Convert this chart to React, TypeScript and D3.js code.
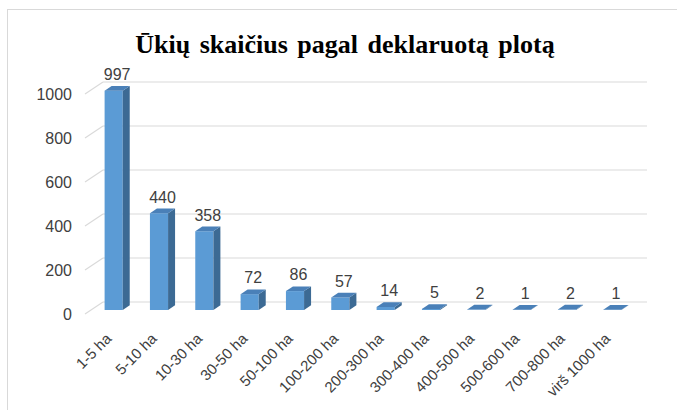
import { useEffect, useRef } from "react"
import * as d3 from "d3"

const categories = [
  "1-5 ha",
  "5-10 ha",
  "10-30 ha",
  "30-50 ha",
  "50-100 ha",
  "100-200 ha",
  "200-300 ha",
  "300-400 ha",
  "400-500 ha",
  "500-600 ha",
  "700-800 ha",
  "virš 1000 ha",
]
const farms = [997, 440, 358, 72, 86, 57, 14, 5, 2, 1, 2, 1]
const yTicks = [0, 200, 400, 600, 800, 1000]

const W = 677
const H = 410

export default function App() {
  const svgRef = useRef<SVGSVGElement>(null)

  useEffect(() => {
    if (!svgRef.current) return
    const svg = d3.select(svgRef.current)
    svg.selectAll("*").remove()

    // 3D depth of the plot box
    const DX = 18
    const DY = -12

    const x = d3.scaleBand().domain(categories).range([85, 629])
    const y = d3.scaleLinear().domain([0, 1000]).range([314, 94])

    // chart border
    svg
      .append("rect")
      .attr("x", 7.5)
      .attr("y", 9.5)
      .attr("width", 700)
      .attr("height", 420)
      .attr("fill", "#fff")
      .attr("stroke", "#d9d9d9")

    // title
    svg
      .append("text")
      .attr("x", 345)
      .attr("y", 53)
      .attr("text-anchor", "middle")
      .attr("font-family", "'Liberation Serif', serif")
      .attr("font-weight", "bold")
      .attr("font-size", 26)
      .attr("word-spacing", 3)
      .attr("fill", "#000")
      .text("Ūkių skaičius pagal deklaruotą plotą")

    // gridlines on back wall + slanted side lines
    const grid = svg.append("g").attr("stroke", "#d9d9d9").attr("stroke-width", 1.2)
    yTicks.forEach((t) => {
      const yy = y(t)
      grid
        .append("line")
        .attr("x1", 85 + DX)
        .attr("x2", 629 + DX)
        .attr("y1", yy + DY)
        .attr("y2", yy + DY)
      grid
        .append("line")
        .attr("x1", 85)
        .attr("x2", 85 + DX)
        .attr("y1", yy)
        .attr("y2", yy + DY)
    })

    // y tick labels
    svg
      .append("g")
      .selectAll("text")
      .data(yTicks)
      .enter()
      .append("text")
      .attr("x", 72)
      .attr("y", (d) => y(d))
      .attr("dy", "0.35em")
      .attr("text-anchor", "end")
      .attr("font-family", "'Liberation Sans', sans-serif")
      .attr("font-size", 16)
      .attr("fill", "#404040")
      .text((d) => d)

    // bars
    const bw = x.bandwidth() * 0.4
    const fdx = 6
    const fdy = -4
    const bdx = 7
    const bdy = -4.7
    const bars = svg.append("g")
    farms.forEach((v, i) => {
      const cx = (x(categories[i]) || 0) + x.bandwidth() / 2
      const x0 = cx - bw / 2 + fdx
      const x1 = x0 + bw
      const yt = y(v) + fdy
      const yb = y(0) + fdy
      bars
        .append("rect")
        .attr("x", x0)
        .attr("y", yt)
        .attr("width", bw)
        .attr("height", yb - yt)
        .attr("fill", "#5b9bd5")
      bars
        .append("polygon")
        .attr("points", `${x1},${yt} ${x1 + bdx},${yt + bdy} ${x1 + bdx},${yb + bdy} ${x1},${yb}`)
        .attr("fill", "#3c6a94")
      bars
        .append("polygon")
        .attr("points", `${x0},${yt} ${x1},${yt} ${x1 + bdx},${yt + bdy} ${x0 + bdx},${yt + bdy}`)
        .attr("fill", "#4a80b8")

      // value label
      bars
        .append("text")
        .attr("x", cx + fdx + bdx / 2)
        .attr("y", yt + bdy - 6)
        .attr("text-anchor", "middle")
        .attr("font-family", "'Liberation Sans', sans-serif")
        .attr("font-size", 16)
        .attr("fill", "#404040")
        .text(v)

      // category label
      const lx = cx + 1
      const ly = 336
      bars
        .append("text")
        .attr("transform", `translate(${lx},${ly}) rotate(-45)`)
        .attr("text-anchor", "end")
        .attr("dy", "0.35em")
        .attr("font-family", "'Liberation Sans', sans-serif")
        .attr("font-size", 15)
        .attr("fill", "#404040")
        .text(categories[i])
    })
  }, [])

  return (
    <div style={{ position: "absolute", left: 0, top: 0, width: W, height: H }}>
      <svg ref={svgRef} width={W} height={H} style={{ display: "block" }} />
    </div>
  )
}
